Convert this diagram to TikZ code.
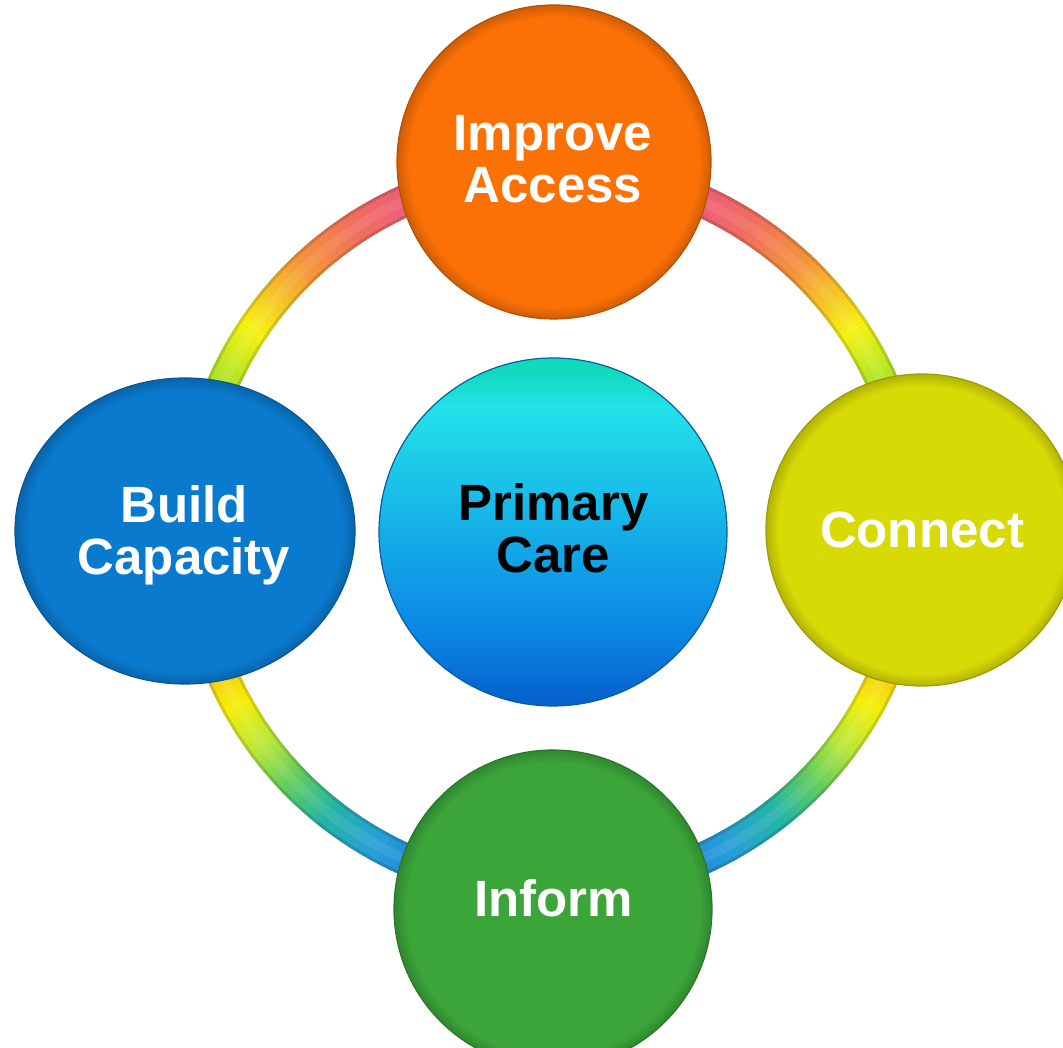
\documentclass[tikz,border=0pt]{standalone}
\usepackage{fontspec}
\setmainfont{Liberation Sans}
\usetikzlibrary{shapes.geometric}

\definecolor{cOrange}{RGB}{252,113,6}
\definecolor{cYellow}{RGB}{216,218,6}
\definecolor{cBlue}{RGB}{10,122,206}
\definecolor{cGreen}{RGB}{59,165,58}
\definecolor{pcTeal}{RGB}{16,218,190}
\definecolor{pcCyan}{RGB}{36,226,234}
\definecolor{pcMid}{RGB}{22,180,232}
\definecolor{pcLow}{RGB}{10,135,228}
\definecolor{pcBot}{RGB}{6,98,206}

% ring key colours (upper arcs, by elevation)
\definecolor{tLa}{RGB}{150,220,50}
\definecolor{tLb}{RGB}{185,232,40}
\definecolor{tY}{RGB}{248,242,20}
\definecolor{tO}{RGB}{246,150,60}
\definecolor{tS}{RGB}{242,112,95}
\definecolor{tP}{RGB}{236,92,128}
% ring key colours (lower arcs, by depression)
\definecolor{bO}{RGB}{248,170,40}
\definecolor{bY}{RGB}{248,240,10}
\definecolor{bL}{RGB}{185,232,60}
\definecolor{bG}{RGB}{100,206,95}
\definecolor{bT}{RGB}{35,182,168}
\definecolor{bC}{RGB}{40,160,218}
\definecolor{bB}{RGB}{30,130,215}

\colorlet{bubC}{white}
\colorlet{bubE}{black}
\pgfdeclareradialshading[bubC,bubE]{bubrim}{\pgfpoint{0bp}{0bp}}{color(0bp)=(bubC); color(23bp)=(bubC); color(25bp)=(bubE); color(50bp)=(bubE)}

\pgfdeclareverticalshading{pcshade}{100bp}{color(0bp)=(pcBot); color(26bp)=(pcBot); color(36bp)=(pcLow); color(52bp)=(pcMid); color(68bp)=(pcCyan); color(73bp)=(pcTeal); color(100bp)=(pcTeal)}

\tikzset{
  bubble/.style={inner sep=0pt, draw=#1!72!black, line width=1.2,
    /utils/exec={\colorlet{bubC}{#1}\colorlet{bubE}{#1!82!black}}, shading=bubrim},
  lbl/.style={font=\bfseries\fontsize{51}{52}\selectfont, text=white, align=center, inner sep=0pt},
}

\newcommand\tubeseg[2]{%
  \pgfmathsetmacro\sa{#1-0.45}\pgfmathsetmacro\sb{#1+0.45}%
  \draw[#2!86!black, line width=32] (ringc) ++(\sa:361) arc[start angle=\sa, end angle=\sb, radius=361];
  \draw[#2, line width=26] (ringc) ++(\sa:361) arc[start angle=\sa, end angle=\sb, radius=361];
  \draw[#2!92!white, line width=10] (ringc) ++(\sa:361) arc[start angle=\sa, end angle=\sb, radius=361];
}

\begin{document}
\begin{tikzpicture}[x=1pt,y=1pt]
\useasboundingbox (0,0) rectangle (1063,1048);
\fill[white] (0,0) rectangle (1063,1048);
\clip (0,0) rectangle (1063,1048);
\coordinate (ringc) at (553,518);

% upper arcs
\foreach \lo/\hi/\ca/\cb in {18/26/tLa/tLb, 26/34/tLb/tY, 34/47/tY/tO, 47/57/tO/tS, 57/68/tS/tP} {
  \pgfmathtruncatemacro\n{2*(\hi-\lo)}
  \foreach \k in {0,...,\n} {
    \pgfmathsetmacro\el{\lo+\k/2}
    \pgfmathtruncatemacro\p{100*\k/\n}
    \colorlet{rc}{\cb!\p!\ca}
    \tubeseg{\el}{rc}
    \pgfmathsetmacro\ph{180-\el}
    \tubeseg{\ph}{rc}
  }
}
% lower arcs
\foreach \lo/\hi/\ca/\cb in {18/29/bO/bY, 29/37/bY/bL, 37/44/bL/bG, 44/52/bG/bT, 52/61/bT/bC, 61/70/bC/bB} {
  \pgfmathtruncatemacro\n{2*(\hi-\lo)}
  \foreach \k in {0,...,\n} {
    \pgfmathsetmacro\el{\lo+\k/2}
    \pgfmathtruncatemacro\p{100*\k/\n}
    \colorlet{rc}{\cb!\p!\ca}
    \pgfmathsetmacro\ph{-\el}
    \tubeseg{\ph}{rc}
    \pgfmathsetmacro\ph{180+\el}
    \tubeseg{\ph}{rc}
  }
}

% bubbles
\node[circle, bubble=cOrange, minimum size=314] (access) at (554,886) {};
\node[circle, bubble=cYellow, minimum size=312] (connect) at (922,518) {};
\node[ellipse, bubble=cBlue, minimum width=340, minimum height=306] (build) at (185,517) {};
\node[circle, bubble=cGreen, minimum size=318] (inform) at (553,139) {};
\node[circle, inner sep=0pt, shading=pcshade, draw=pcLow!70!black, line width=1.2,
      minimum size=348] (primary) at (553,516) {};

% labels
\node[lbl, anchor=north] (tAccess) at (553,932.5) {Improve\\Access};
\node[lbl, anchor=north, text=black] (tPrimary) at (553.5,565) {Primary\\Care};
\node[lbl, anchor=north] (tBuild) at (184,563) {Build\\Capacity};
\node[lbl, anchor=base] (tConnect) at (922,500) {Connect};
\node[lbl, anchor=base] (tInform) at (553.5,131) {Inform};
\end{tikzpicture}
\end{document}
